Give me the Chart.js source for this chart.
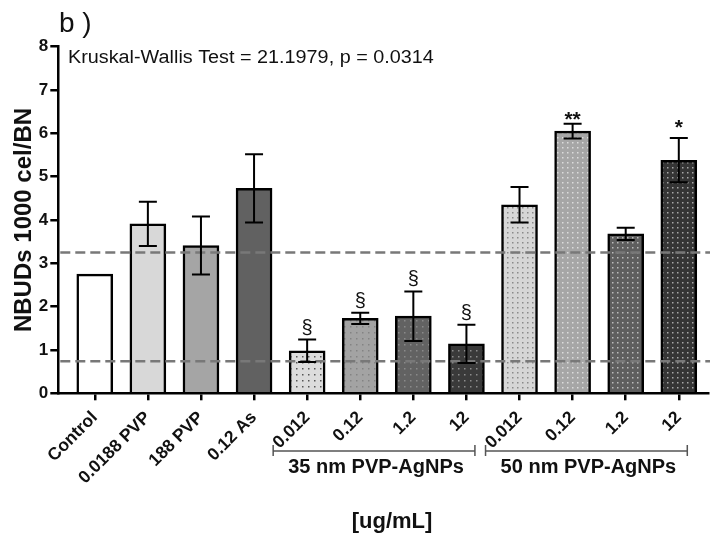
<!DOCTYPE html>
<html>
<head>
<meta charset="utf-8">
<script src="https://cdn.jsdelivr.net/npm/chart.js@4/dist/chart.umd.min.js"></script>
<style>
  html, body { margin: 0; padding: 0; background: #fff; }
  #wrap { width: 710px; height: 539px; }
</style>
</head>
<body>
<div id="wrap"><canvas id="nbudChart" width="710" height="539"></canvas></div>
<script>
// data
const categories = ['Control', '0.0188 PVP', '188 PVP', '0.12 As',
  '0.012', '0.12', '1.2', '12',
  '0.012', '0.12', '1.2', '12'];
const means = [2.75, 3.91, 3.41, 4.73, 0.98, 1.73, 1.78, 1.14, 4.35, 6.05, 3.68, 5.38];
const errors = [0, 0.51, 0.67, 0.79, 0.26, 0.13, 0.57, 0.44, 0.41, 0.17, 0.14, 0.51];
const marks = ['', '', '', '', '§', '§', '§', '§', '', '**', '', '*'];
const refLines = [3.25, 0.74];
const groups = [
  { label: '35 nm PVP-AgNPs', from: 4, to: 7 },
  { label: '50 nm PVP-AgNPs', from: 8, to: 11 }
];
const yTicks = [0, 1, 2, 3, 4, 5, 6, 7, 8];
const statText = 'Kruskal-Wallis Test = 21.1979, p = 0.0314';

const canvas = document.getElementById('nbudChart');
const ctx = canvas.getContext('2d');

function dots(bg, dot, step) { // small tile with one dot, repeated
  const c = document.createElement('canvas');
  c.width = step; c.height = step;
  const g = c.getContext('2d');
  g.fillStyle = bg;
  g.fillRect(0, 0, step, step);
  g.fillStyle = dot;
  g.fillRect(2, 2, 1.5, 1.5);
  return ctx.createPattern(c, 'repeat');
}

const fills = [
  '#ffffff', '#d8d8d8', '#a5a5a5', '#616161',
  dots('#dcdcdc', '#555555', 6), dots('#a3a3a3', '#838383', 6),
  dots('#626262', '#8a8a8a', 6), dots('#3a3a3a', '#8c8c8c', 6),
  dots('#d6d6d6', '#8a8a8a', 5), dots('#a6a6a6', '#dcdcdc', 5),
  dots('#5e5e5e', '#bcbcbc', 5), dots('#353535', '#a8a8a8', 5)
];

// text drawn a little wider, like the original export
function wideText(c, txt, x, y, sx) {
  c.save();
  c.translate(x, y);
  c.scale(sx, 1);
  c.fillText(txt, 0, 0);
  c.restore();
}

const extras = {
  id: 'extras',
  afterDatasetsDraw(chart) {
    const c = chart.ctx;
    const xs = chart.scales.x, ys = chart.scales.y;
    const area = chart.chartArea;
    c.save();
    // dashed reference lines
    c.strokeStyle = '#787878';
    c.lineWidth = 2.5;
    c.setLineDash([10, 5]);
    refLines.forEach(v => {
      const y = ys.getPixelForValue(v);
      c.beginPath();
      c.moveTo(area.left + 2, y);
      c.lineTo(chart.width, y);
      c.stroke();
    });
    c.setLineDash([]);
    // error bars
    c.strokeStyle = '#000';
    c.lineWidth = 2;
    means.forEach((m, i) => {
      if (!errors[i]) return;
      const x = xs.getPixelForValue(i);
      const top = ys.getPixelForValue(m + errors[i]);
      const bot = ys.getPixelForValue(m - errors[i]);
      c.beginPath();
      c.moveTo(x, top); c.lineTo(x, bot);
      c.moveTo(x - 9, top); c.lineTo(x + 9, top);
      c.moveTo(x - 9, bot); c.lineTo(x + 9, bot);
      c.stroke();
    });
    // significance marks
    c.fillStyle = '#111';
    c.textAlign = 'center';
    c.textBaseline = 'alphabetic';
    marks.forEach((s, i) => {
      if (!s) return;
      const x = xs.getPixelForValue(i);
      const top = ys.getPixelForValue(means[i] + errors[i]);
      if (s === '§') {
        c.font = '20px "Liberation Sans", Arial, sans-serif';
        c.fillText(s, x, top - 6);
      } else {
        c.font = 'bold 21px "Liberation Sans", Arial, sans-serif';
        c.fillText(s, x, top + (s === '*' ? -4 : 2));
      }
    });
    c.restore();
  },
  afterDraw(chart) {
    const c = chart.ctx;
    const xs = chart.scales.x;
    c.save();
    c.fillStyle = '#111';
    // panel letter
    c.font = '28px "Liberation Sans", Arial, sans-serif';
    c.textAlign = 'left';
    c.textBaseline = 'alphabetic';
    c.fillText('b )', 59, 32);
    // test statistic
    c.font = '18px "Liberation Sans", Arial, sans-serif';
    c.textBaseline = 'middle';
    wideText(c, statText, 68, 58, 1.1);
    // group brackets
    c.strokeStyle = '#555';
    c.lineWidth = 1.5;
    groups.forEach(g => {
      const x0 = xs.getPixelForValue(g.from - 0.64);
      const x1 = xs.getPixelForValue(g.to + 0.16);
      const y = 451;
      c.beginPath();
      c.moveTo(x0, y - 6); c.lineTo(x0, y + 5);
      c.moveTo(x0, y); c.lineTo(x1, y);
      c.moveTo(x1, y - 6); c.lineTo(x1, y + 5);
      c.stroke();
      c.font = 'bold 20px "Liberation Sans", Arial, sans-serif';
      c.textAlign = 'center';
      c.fillText(g.label, (x0 + x1) / 2 + 2, 467);
    });
    // unit label
    c.font = 'bold 22px "Liberation Sans", Arial, sans-serif';
    c.textAlign = 'center';
    c.fillText('[ug/mL]', 392, 522);
    c.restore();
  }
};

new Chart(ctx, {
  type: 'bar',
  data: {
    datasets: [{
      data: means.map((m, i) => ({ x: i, y: m })),
      backgroundColor: fills,
      borderColor: '#000',
      borderWidth: 2.5,
      borderSkipped: 'bottom',
      barThickness: 36
    }]
  },
  options: {
    responsive: false,
    animation: false,
    events: [],
    layout: { padding: { top: 46.7, right: 2, bottom: 0, left: 0 } },
    plugins: { legend: { display: false }, tooltip: { enabled: false } },
    scales: {
      x: {
        type: 'linear',
        offset: false,
        min: -0.687,
        max: 11.55,
        afterFit: s => { s.height = 145.7; s.paddingLeft = 0; s.paddingRight = 0; },
        afterBuildTicks: s => { s.ticks = categories.map((c, i) => ({ value: i })); },
        grid: { drawOnChartArea: false, offset: false, color: '#000', lineWidth: 2.5, tickLength: 7 },
        border: { color: '#000', width: 2.5 },
        ticks: {
          autoSkip: false,
          minRotation: 45,
          maxRotation: 45,
          padding: 7,
          color: '#111',
          font: { family: '"Liberation Sans", Arial, sans-serif', size: 17.5, weight: 'bold' },
          callback: v => categories[v]
        }
      },
      y: {
        min: 0,
        max: 8,
        afterFit: s => { s.width = 58.3; },
        afterBuildTicks: s => { s.ticks = yTicks.map(v => ({ value: v })); },
        grid: { drawOnChartArea: false, color: '#000', lineWidth: 2.5, tickLength: 8 },
        border: { color: '#000', width: 2.5 },
        ticks: {
          padding: 2,
          color: '#111',
          font: { family: '"Liberation Sans", Arial, sans-serif', size: 17, weight: 'bold' }
        },
        title: {
          display: true,
          text: 'NBUDs 1000 cel/BN',
          color: '#111',
          padding: { top: 10, bottom: 0 },
          font: { family: '"Liberation Sans", Arial, sans-serif', size: 24, weight: 'bold' }
        }
      }
    }
  },
  plugins: [extras]
});
</script>
</body>
</html>
